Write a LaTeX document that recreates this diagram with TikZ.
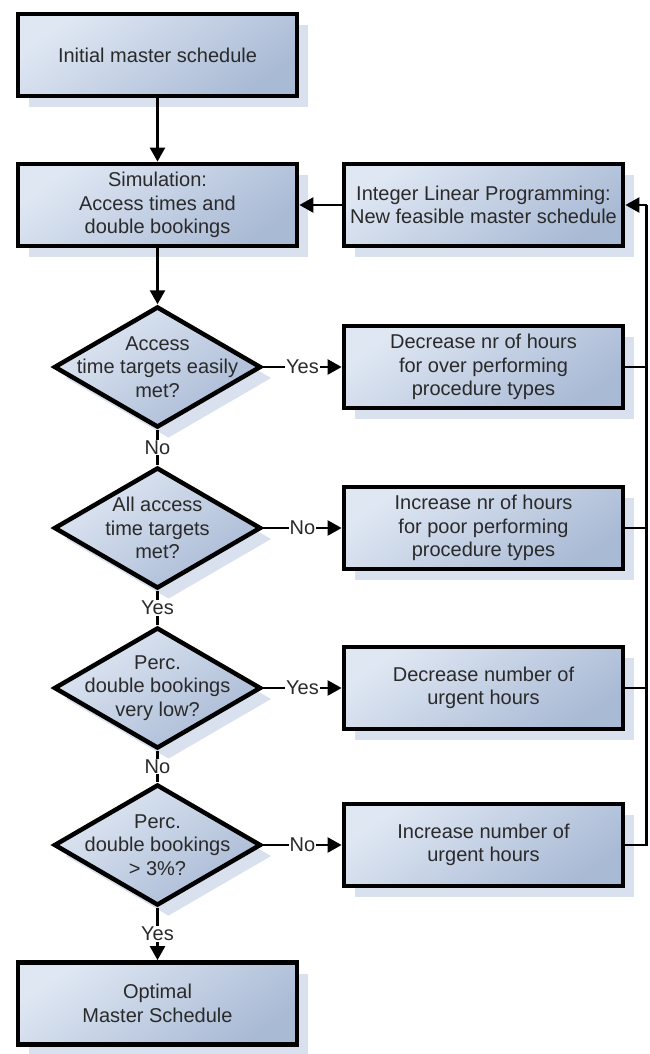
\documentclass[tikz,border=0pt]{standalone}
\usepackage{fontspec}
\setmainfont{Liberation Sans}
\usetikzlibrary{shapes.geometric,arrows.meta,shadows}
\definecolor{boxlight}{HTML}{DFE7F3}
\definecolor{boxdark}{HTML}{A9BAD5}
\definecolor{shadowblue}{HTML}{D9E1EF}
\definecolor{txt}{HTML}{2A2A2A}
\tikzset{
  shadowed/.style={drop shadow={shadow xshift=11pt, shadow yshift=-11pt, fill=shadowblue, opacity=1}},
  box/.style={rectangle, draw=black, line width=4.8pt, minimum width=279pt, minimum height=82pt,
    inner sep=0pt, align=center, top color=boxlight, bottom color=boxdark, shading angle=35,
    shadowed, text=txt, font=\fontsize{20}{23.5}\selectfont},
  dia/.style={diamond, draw=black, line width=4.5pt, minimum width=207pt, minimum height=121pt,
    inner sep=0pt, top color=boxlight, bottom color=boxdark, shading angle=35, shadowed},
  dtext/.style={align=center, text=txt, inner sep=0pt, font=\fontsize{20}{23.5}\selectfont},
  conn/.style={draw=black, line width=2.5pt},
  arr/.style={conn, -{Triangle[length=14pt,width=15pt]}},
  lab/.style={fill=white, inner sep=1pt, text=txt, font=\fontsize{20}{23.5}\selectfont},
}
\begin{document}
\begin{tikzpicture}[x=1pt,y=-1pt]
\useasboundingbox (0,0) rectangle (649,1054);
% left column
\node[box] (init) at (157.5,55) {Initial master schedule};
\node[box] (sim) at (157.5,205) {Simulation:\\Access times and\\double bookings};
\node[dia] (d1) at (157.5,367) {};
\node[dtext] at (d1) {Access\\time targets easily\\met?};
\node[dia] (d2) at (157.5,528) {};
\node[dtext] at (d2) {All access\\time targets\\met?};
\node[dia] (d3) at (157.5,688) {};
\node[dtext] at (d3) {Perc.\\double bookings\\very low?};
\node[dia] (d4) at (157.5,845) {};
\node[dtext] at (d4) {Perc.\\double bookings\\> 3\%?};
\node[box] (opt) at (157.5,1003.5) {Optimal\\Master Schedule};
% right column
\node[box] (ilp) at (483.5,205) {Integer Linear Programming:\\New feasible master schedule};
\node[box] (r1) at (483.5,367) {Decrease nr of hours\\for over performing\\procedure types};
\node[box] (r2) at (483.5,528) {Increase nr of hours\\for poor performing\\procedure types};
\node[box] (r3) at (483.5,688) {Decrease number of\\urgent hours};
\node[box] (r4) at (483.5,845) {Increase number of\\urgent hours};
\coordinate (fb) at (646.5,205);
% connectors
\draw[arr] (init) -- (sim);
\draw[arr] (sim) -- (d1);
\draw[conn] (d1) -- node[lab] {No} (d2);
\draw[conn] (d2) -- node[lab] {Yes} (d3);
\draw[conn] (d3) -- node[lab] {No} (d4);
\draw[arr] (d4) -- node[lab] {Yes} (opt);
\draw[arr] (d1.east) -- node[lab] {Yes} (r1.west);
\draw[arr] (d2.east) -- node[lab] {No} (r2.west);
\draw[arr] (d3.east) -- node[lab] {Yes} (r3.west);
\draw[arr] (d4.east) -- node[lab] {No} (r4.west);
\draw[arr] (ilp) -- (sim);
\draw[conn] (r1.east) -- (r1.east -| fb);
\draw[conn] (r2.east) -- (r2.east -| fb);
\draw[conn] (r3.east) -- (r3.east -| fb);
\draw[conn] (r4.east) -- (r4.east -| fb) -- (fb);
\draw[arr] (fb) -- (ilp.east);
\end{tikzpicture}
\end{document}
